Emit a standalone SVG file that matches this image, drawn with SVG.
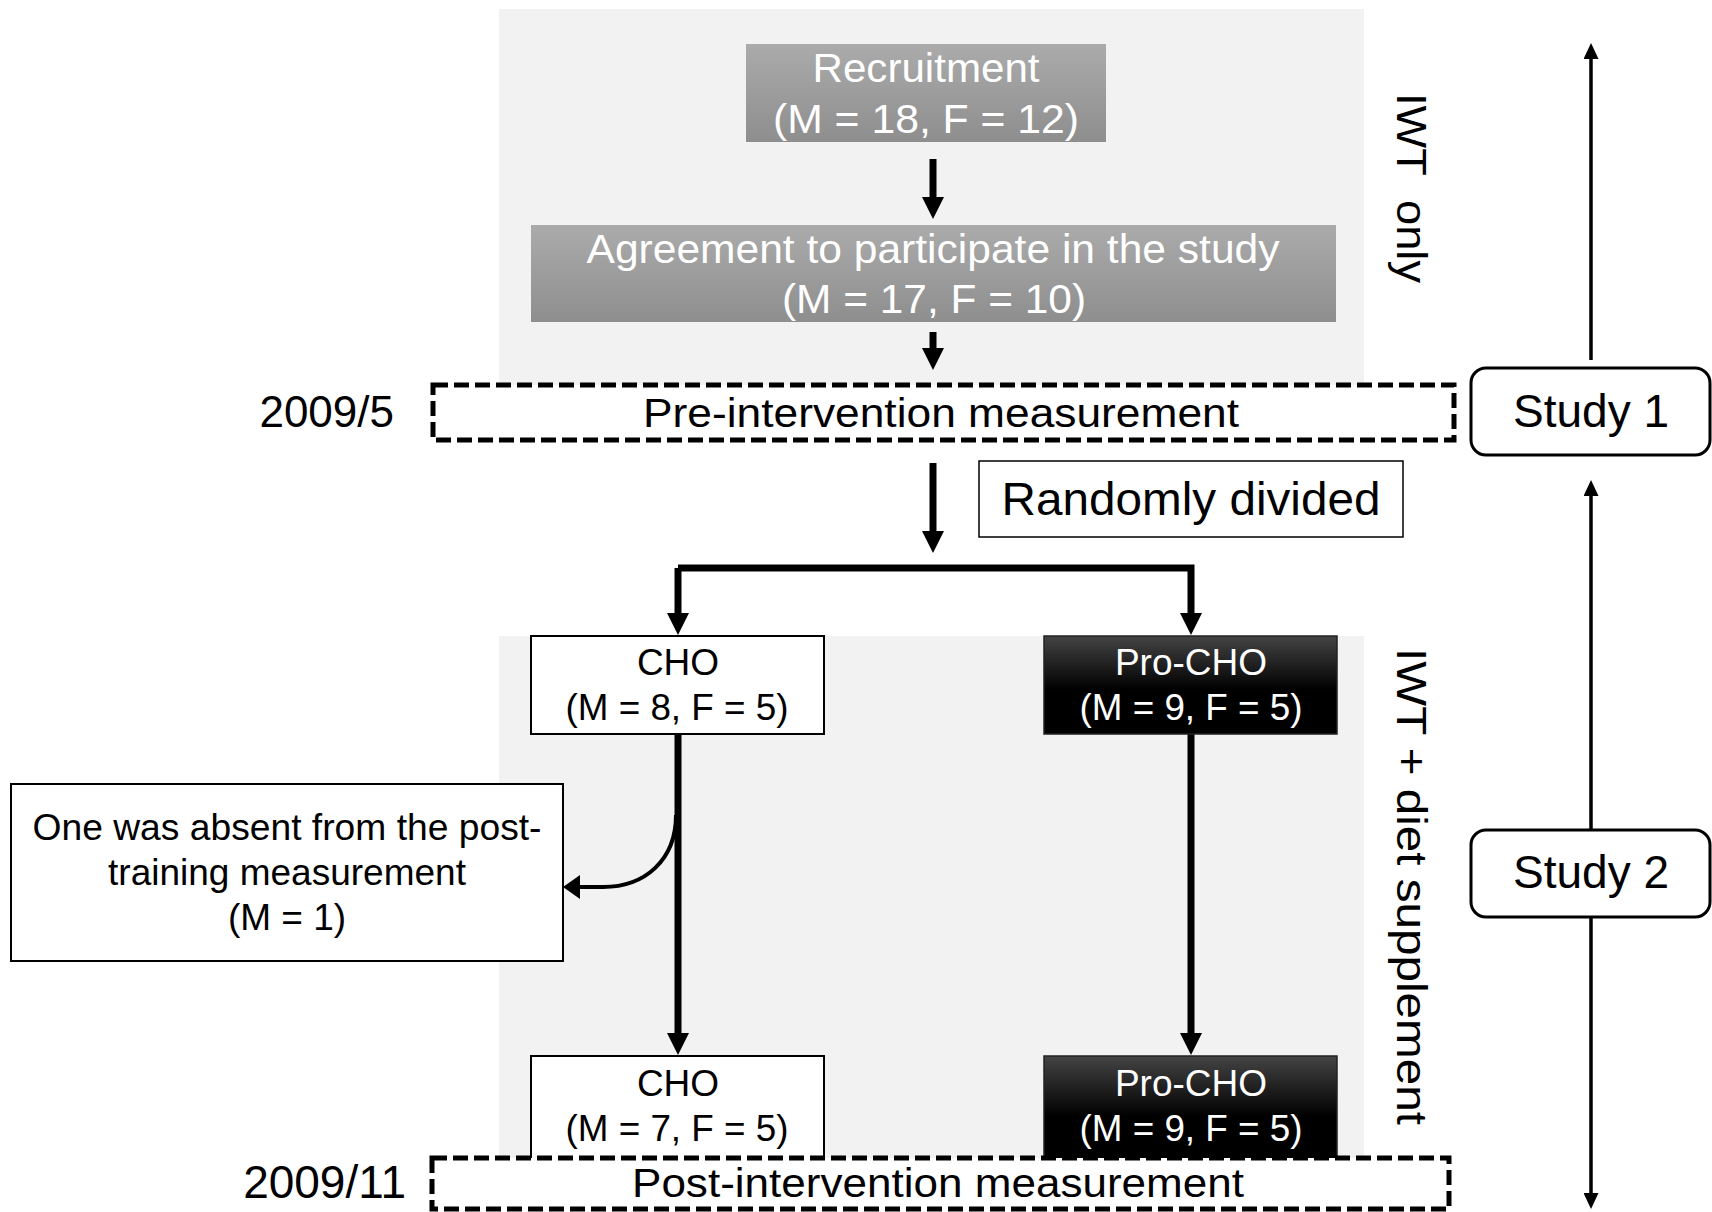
<svg xmlns="http://www.w3.org/2000/svg" width="1712" height="1212" viewBox="0 0 1712 1212">
<defs>
<linearGradient id="gGray" x1="0" y1="0" x2="0" y2="1">
<stop offset="0" stop-color="#ababab"/>
<stop offset="1" stop-color="#8e8e8e"/>
</linearGradient>
<linearGradient id="gBlack" x1="0" y1="0" x2="0" y2="1">
<stop offset="0" stop-color="#444444"/>
<stop offset="0.55" stop-color="#000000"/>
<stop offset="1" stop-color="#000000"/>
</linearGradient>
<marker id="ah" viewBox="0 0 22 22" refX="0" refY="11" markerWidth="22" markerHeight="22" markerUnits="userSpaceOnUse" orient="auto">
<path d="M0,0 L22,11 L0,22 z" fill="#000"/>
</marker>
<marker id="ahs" viewBox="0 0 16 15" refX="0" refY="7.5" markerWidth="16" markerHeight="15" markerUnits="userSpaceOnUse" orient="auto">
<path d="M0,0 L16,7.5 L0,15 z" fill="#000"/>
</marker>
<marker id="ahc" viewBox="0 0 17 24" refX="0" refY="12" markerWidth="17" markerHeight="24" markerUnits="userSpaceOnUse" orient="auto">
<path d="M0,0 L17,12 L0,24 z" fill="#000"/>
</marker>
</defs>
<style>
text{font-family:"Liberation Sans",Arial,sans-serif;fill:#000}
.w{fill:#fff}
.c{text-anchor:middle}
.bg{fill:#f2f2f2}
.dash{fill:#fff;stroke:#000;stroke-width:5;stroke-dasharray:15 6}
.box{fill:#fff;stroke:#000;stroke-width:2}
.rbox{fill:#fff;stroke:#000;stroke-width:3}
.thick{fill:none;stroke:#000;stroke-width:7;stroke-linejoin:miter}
.thin{fill:none;stroke:#000;stroke-width:3.5}
</style>
<rect class="bg" x="499" y="9" width="865" height="376"/>
<rect class="bg" x="499" y="636" width="865" height="524"/>

<g id="connectors">
<line class="thick" x1="933" y1="159" x2="933" y2="197" stroke-width="6" marker-end="url(#ah)"/>
<line class="thick" x1="933" y1="332" x2="933" y2="348" stroke-width="6" marker-end="url(#ah)"/>
<line class="thick" x1="933" y1="463" x2="933" y2="531" stroke-width="6" marker-end="url(#ah)"/>
<path class="thick" d="M678,568 V613" marker-end="url(#ah)"/>
<path class="thick" d="M678,568 H1191 V613" marker-end="url(#ah)"/>
<path class="thick" d="M678,734 V1033" marker-end="url(#ah)"/>
<path class="thick" d="M1191,734 V1033" marker-end="url(#ah)"/>
<path fill="none" stroke="#000" stroke-width="4" d="M676,815 C676,860 645,887 603,887 L580,887" marker-end="url(#ahc)"/>
<line class="thin" x1="1591" y1="360" x2="1591" y2="59" marker-end="url(#ahs)"/>
<line class="thin" x1="1591" y1="829" x2="1591" y2="496" marker-end="url(#ahs)"/>
<line class="thin" x1="1591" y1="917" x2="1591" y2="1193" marker-end="url(#ahs)"/>
</g>

<g id="recruitment">
<rect x="746" y="44" width="360" height="98" fill="url(#gGray)"/>
<text class="w c" x="926" y="82" font-size="40" textLength="227" lengthAdjust="spacingAndGlyphs">Recruitment</text>
<text class="w c" x="926" y="133" font-size="40" textLength="306" lengthAdjust="spacingAndGlyphs">(M = 18, F = 12)</text>
</g>

<g id="agreement">
<rect x="531" y="225" width="805" height="97" fill="url(#gGray)"/>
<text class="w c" x="933" y="263" font-size="40" textLength="693" lengthAdjust="spacingAndGlyphs">Agreement to participate in the study</text>
<text class="w c" x="934" y="313" font-size="40" textLength="304" lengthAdjust="spacingAndGlyphs">(M = 17, F = 10)</text>
</g>

<g id="pre">
<rect class="dash" x="433" y="385" width="1021" height="55"/>
<text class="c" x="941" y="427" font-size="40" textLength="596" lengthAdjust="spacingAndGlyphs">Pre-intervention measurement</text>
</g>
<g id="date1">
<text x="394" y="427" font-size="44" text-anchor="end">2009/5</text>
</g>

<g id="study1">
<rect class="rbox" x="1471" y="368" width="239" height="87" rx="15"/>
<text class="c" x="1591" y="427" font-size="46">Study 1</text>
</g>

<g id="randomly">
<rect x="979" y="461" width="424" height="76" fill="#fff" stroke="#000" stroke-width="1.5"/>
<text class="c" x="1191" y="515" font-size="46" textLength="379" lengthAdjust="spacingAndGlyphs">Randomly divided</text>
</g>

<g id="cho1">
<rect class="box" x="531" y="636" width="293" height="98"/>
<text class="c" x="678" y="675" font-size="37">CHO</text>
<text class="c" x="677" y="720" font-size="37" textLength="223" lengthAdjust="spacingAndGlyphs">(M = 8, F = 5)</text>
</g>

<g id="procho1">
<rect x="1044" y="636" width="293" height="98" fill="url(#gBlack)" stroke="#222" stroke-width="1.5"/>
<text class="w c" x="1191" y="675" font-size="37">Pro-CHO</text>
<text class="w c" x="1191" y="720" font-size="37" textLength="223" lengthAdjust="spacingAndGlyphs">(M = 9, F = 5)</text>
</g>

<g id="absent">
<rect class="box" x="11" y="784" width="552" height="177"/>
<text class="c" x="287" y="840" font-size="37" textLength="509" lengthAdjust="spacingAndGlyphs">One was absent from the post-</text>
<text class="c" x="287" y="885" font-size="37">training measurement</text>
<text class="c" x="287" y="930" font-size="37">(M = 1)</text>
</g>

<g id="study2">
<rect class="rbox" x="1471" y="830" width="239" height="87" rx="15"/>
<text class="c" x="1591" y="888" font-size="46">Study 2</text>
</g>

<g id="cho2">
<rect class="box" x="531" y="1056" width="293" height="110"/>
<text class="c" x="678" y="1096" font-size="37">CHO</text>
<text class="c" x="677" y="1141" font-size="37" textLength="223" lengthAdjust="spacingAndGlyphs">(M = 7, F = 5)</text>
</g>

<g id="procho2">
<rect x="1044" y="1056" width="293" height="110" fill="url(#gBlack)" stroke="#222" stroke-width="1.5"/>
<text class="w c" x="1191" y="1096" font-size="37">Pro-CHO</text>
<text class="w c" x="1191" y="1141" font-size="37" textLength="223" lengthAdjust="spacingAndGlyphs">(M = 9, F = 5)</text>
</g>

<g id="post">
<rect class="dash" x="432" y="1158" width="1017" height="51"/>
<text class="c" x="938" y="1197" font-size="40" textLength="612" lengthAdjust="spacingAndGlyphs">Post-intervention measurement</text>
</g>
<g id="date2">
<text x="406" y="1198" font-size="46" text-anchor="end">2009/11</text>
</g>

<g id="phase1">
<text transform="translate(1397,93) rotate(90)" font-size="43" textLength="190" lengthAdjust="spacingAndGlyphs" xml:space="preserve">IWT  only</text>
</g>
<g id="phase2">
<text transform="translate(1397,648) rotate(90)" font-size="43" textLength="477" lengthAdjust="spacingAndGlyphs">IWT + diet supplement</text>
</g>
</svg>
